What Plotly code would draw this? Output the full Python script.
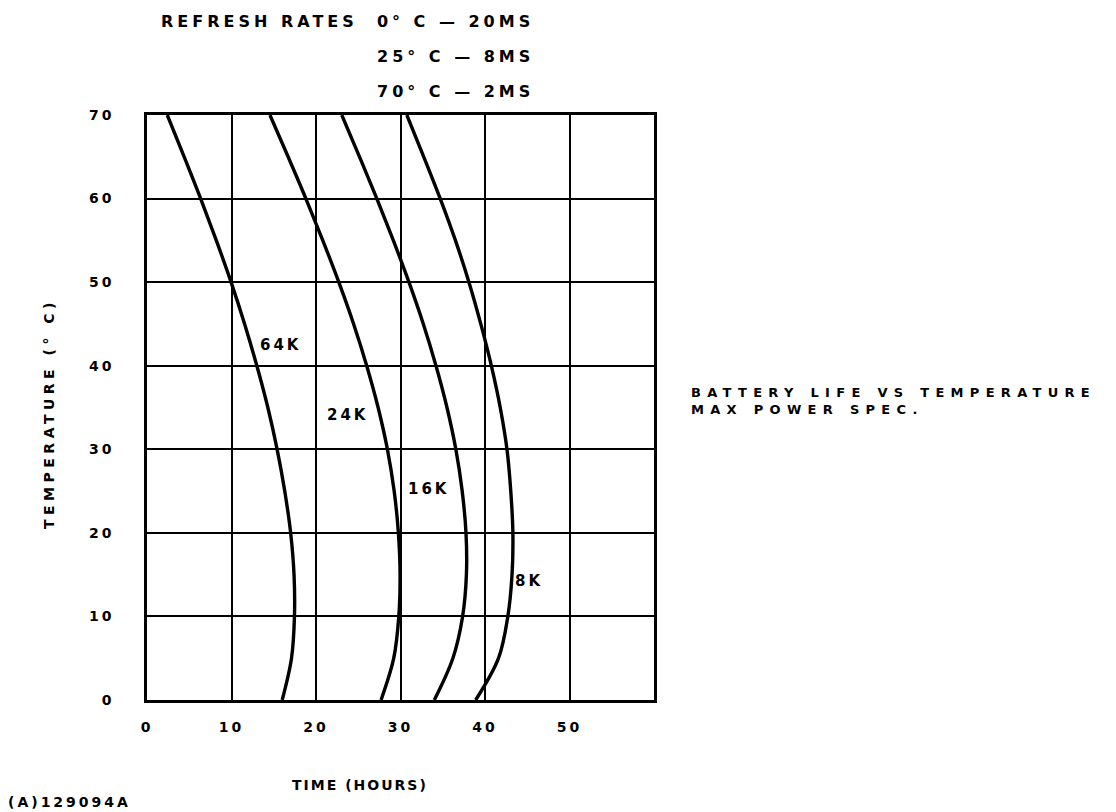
import plotly.graph_objects as go

# ---- data ----
temps = [0, 5, 10, 15, 20, 25, 30, 35, 40, 45, 50, 55, 60, 65, 70]
hours_64k = [16.0, 17.1, 17.45, 17.4, 17.0, 16.3, 15.4, 14.3, 13.0, 11.55, 9.95, 8.2, 6.35, 4.4, 2.4]
hours_24k = [27.7, 29.2, 29.8, 29.95, 29.75, 29.25, 28.45, 27.35, 26.0, 24.45, 22.7, 20.8, 18.8, 16.7, 14.55]
hours_16k = [34.0, 36.2, 37.35, 37.8, 37.75, 37.3, 36.55, 35.5, 34.2, 32.7, 31.0, 29.15, 27.2, 25.15, 23.05]
hours_8k = [38.9, 41.6, 42.7, 43.2, 43.3, 43.05, 42.6, 41.8, 40.75, 39.5, 38.1, 36.5, 34.7, 32.75, 30.75]

series_names = ["64K", "24K", "16K", "8K"]
label_x = [15.9, 23.8, 33.4, 45.2]
label_y = [42.5, 34.1, 25.2, 14.2]

x_tickvals = [0, 10, 20, 30, 40, 50, 60]
x_ticklabels = ["0", "10", "20", "30", "40", "50", ""]
y_tickvals = [0, 10, 20, 30, 40, 50, 60, 70]

refresh_lines = ["REFRESH RATES  0° C — 20MS", "25° C — 8MS", "70° C — 2MS"]
side_lines = ["BATTERY LIFE VS TEMPERATURE", "MAX POWER SPEC."]
y_title = "TEMPERATURE (° C)"
x_title = "TIME (HOURS)"
footer = "(A)129094A"

FONT = "DejaVu Sans"


def sp(t, ls=2.5):
    return f'<span style="letter-spacing:{ls}px">{t}</span>'


def f(size=14):
    return dict(size=size, family=FONT, color="black", weight="bold")


fig = go.Figure()
for hrs in [hours_64k, hours_24k, hours_16k, hours_8k]:
    fig.add_trace(go.Scatter(
        x=hrs, y=temps, mode="lines",
        line=dict(color="black", width=3.4, shape="spline", smoothing=1.0),
        showlegend=False, hoverinfo="skip"))

# target page-pixel positions of the plot frame (from the reference)
L, R, T, B = 145, 652, 113, 698
OX, OY = 6, 6  # page offset of the figure inside the browser
W, H = 1116, 812
pw, ph = R - L, B - T


def px(xp):
    return (xp - L) / pw


def py(yp):
    return (B - yp) / ph


ann = []
for name, lx, ly in zip(series_names, label_x, label_y):
    ann.append(dict(x=lx, y=ly, xref="x", yref="y", text=sp(name, 3),
                    showarrow=False, xanchor="center", yanchor="middle", font=f(15)))

ref_y = [20, 55, 90]
for t, yy in zip(refresh_lines, ref_y):
    ann.append(dict(x=px(534), y=py(yy), xref="paper", yref="paper", text=sp(t, 4.0),
                    xanchor="right", yanchor="middle", showarrow=False, font=f(16)))

ann.append(dict(x=px(687), y=py(399), xref="paper", yref="paper",
                text="<br>".join(sp(t, 6.3) for t in side_lines),
                xanchor="left", yanchor="middle", align="left", showarrow=False, font=f(13)))

ann.append(dict(x=px(47), y=py(412), xref="paper", yref="paper", text=sp(y_title, 4.5),
                textangle=-90, showarrow=False, xanchor="center", yanchor="middle", font=f(14)))
ann.append(dict(x=px(358), y=py(783), xref="paper", yref="paper", text=sp(x_title, 2),
                showarrow=False, xanchor="center", yanchor="middle", font=f(14)))
ann.append(dict(x=px(4), y=py(800), xref="paper", yref="paper", text=sp(footer, 3),
                xanchor="left", yanchor="middle", showarrow=False, font=f(14)))

fig.update_layout(
    width=W, height=H,
    margin=dict(l=L - OX, r=W - R + OX, t=T - OY, b=H - B + OY, pad=0),
    paper_bgcolor="white", plot_bgcolor="white",
    annotations=ann,
    font=dict(family=FONT, color="black", size=14),
)
fig.update_xaxes(range=[0, 60], tickvals=x_tickvals,
                 ticktext=[sp(v, 3) for v in x_ticklabels],
                 showgrid=True, gridcolor="black", gridwidth=2.2,
                 showline=True, linecolor="black", linewidth=2.6, mirror=True,
                 ticks="", zeroline=False, ticklabelstandoff=12, tickfont=f(14))
fig.update_yaxes(range=[0, 70], tickvals=y_tickvals,
                 ticktext=[sp(str(v), 3) for v in y_tickvals],
                 showgrid=True, gridcolor="black", gridwidth=2.2,
                 showline=True, linecolor="black", linewidth=2.6, mirror=True,
                 ticks="", zeroline=False, ticklabelstandoff=27, tickfont=f(14))

fig.write_html("out.html")
